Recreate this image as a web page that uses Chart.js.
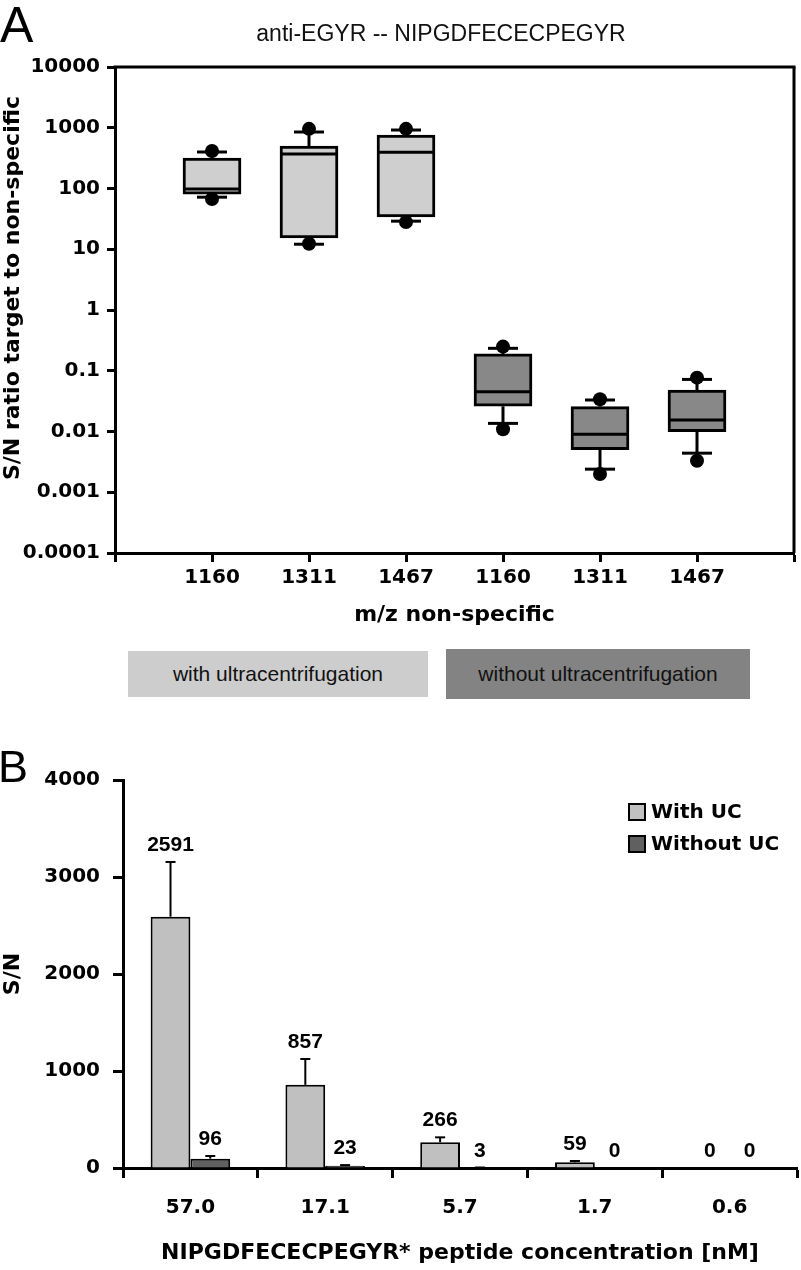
<!DOCTYPE html>
<html>
<head>
<meta charset="utf-8">
<script src="https://cdn.jsdelivr.net/npm/chart.js@4.4.1/dist/chart.umd.min.js"></script>
<style>
html,body{margin:0;padding:0;background:#fff;}
#wrap{position:relative;width:801px;height:1270px;overflow:hidden;background:#fff;}
canvas{position:absolute;left:0;}
#cA{top:0;}
#cB{top:700px;}
.txt{position:absolute;line-height:1;color:#000;white-space:nowrap;}
.letter{font-family:'Liberation Sans',Arial,sans-serif;font-weight:normal;}
.strip{position:absolute;display:flex;align-items:center;justify-content:center;font-family:'Liberation Sans',Arial,sans-serif;font-size:21px;color:#111;}
</style>
</head>
<body>
<div id="wrap">
  <canvas id="cA" width="801" height="640"></canvas>
  <canvas id="cB" width="801" height="570"></canvas>
  <div class="txt letter" style="left:0;top:0;font-size:50px;">A</div>
  <div class="txt letter" style="left:-2px;top:744px;font-size:45px;">B</div>
  <div class="txt" style="left:441px;top:22px;transform:translateX(-50%);font-family:'Liberation Sans',Arial,sans-serif;font-size:23px;color:#111;">anti-EGYR -- NIPGDFECECPEGYR</div>
  <div class="txt" style="left:12px;top:288px;transform:translate(-50%,-50%) rotate(-90deg);font-family:'DejaVu Sans',sans-serif;font-weight:bold;font-size:22px;line-height:22px;">S/N ratio target to non-specific</div>
  <div class="strip" style="left:128px;top:651px;width:300px;height:46px;background:#cdcdcd;">with ultracentrifugation</div>
  <div class="strip" style="left:446px;top:649px;width:304px;height:50px;background:#838383;">without ultracentrifugation</div>
</div>
<script>
// ---------- Panel A data (box plots, log scale) ----------
const mzLabels = ['1160', '1311', '1467', '1160', '1311', '1467'];
const boxQ1 = [81, 15.3, 34, 0.026, 0.0050, 0.0099];
const boxMedian = [98, 370, 394, 0.045, 0.009, 0.0155];
const boxQ3 = [318, 501, 760, 0.189, 0.0257, 0.048];
const whiskerLow = [72, 12.1, 29, 0.0136, 0.0024, 0.0044];
const whiskerHigh = [399, 851, 918, 0.234, 0.033, 0.072];
const pointLow = [67, 12.3, 28, 0.0109, 0.0020, 0.0033];
const pointHigh = [414, 960, 960, 0.25, 0.034, 0.077];
const withUltra = [true, true, true, false, false, false];
const yTickValuesA = [0.0001, 0.001, 0.01, 0.1, 1, 10, 100, 1000, 10000];
const yTickLabelsA = ['0.0001', '0.001', '0.01', '0.1', '1', '10', '100', '1000', '10000'];

// ---------- Panel B data (grouped bars) ----------
const concLabels = ['57.0', '17.1', '5.7', '1.7', '0.6'];
const withUC = [2591, 857, 266, 59, 0];
const withUCErr = [564, 267, 50, 13, 0];
const withoutUC = [96, 23, 3, 0, 0];
const withoutUCErr = [28, 7, 2, 0, 0];

const LIGHT_A = '#cfcfcf', DARK_A = '#888888';
const LIGHT_B = '#c0c0c0', DARK_B = '#606060';
const tickFont = {family: "'DejaVu Sans', sans-serif", weight: 'bold', size: 20};
const titleFont = {family: "'DejaVu Sans', sans-serif", weight: 'bold', size: 22};

function seg(ctx, x1, y1, x2, y2) { ctx.beginPath(); ctx.moveTo(x1, y1); ctx.lineTo(x2, y2); ctx.stroke(); }

const boxParts = {
  id: 'boxParts',
  afterDatasetsDraw(chart) {
    const ctx = chart.ctx, y = chart.scales.y;
    const meta = chart.getDatasetMeta(1);
    ctx.save();
    ctx.strokeStyle = '#000';
    ctx.lineWidth = 3;
    meta.data.forEach((bar, i) => {
      const x = bar.x, half = bar.width / 2;
      const ym = y.getPixelForValue(boxMedian[i]);
      seg(ctx, x - half + 2, ym, x + half - 2, ym);
      const yq3 = y.getPixelForValue(boxQ3[i]);
      const yhi = y.getPixelForValue(whiskerHigh[i]);
      seg(ctx, x, yq3, x, yhi);
      seg(ctx, x - 15, yhi, x + 15, yhi);
      const yq1 = y.getPixelForValue(boxQ1[i]);
      const ylo = y.getPixelForValue(whiskerLow[i]);
      seg(ctx, x, yq1, x, ylo);
      seg(ctx, x - 15, ylo, x + 15, ylo);
    });
    const a = chart.chartArea;
    seg(ctx, a.left - 1.5, a.top, a.right + 1.5, a.top);
    seg(ctx, a.right, a.top, a.right, a.bottom);
    ctx.restore();
  }
};

const dotData = [];
mzLabels.forEach((_, i) => {
  dotData.push({x: i + 1, y: pointLow[i]});
  dotData.push({x: i + 1, y: pointHigh[i]});
});

new Chart(document.getElementById('cA'), {
  type: 'bar',
  data: {
    datasets: [
      {
        type: 'scatter', data: dotData, order: 0,
        pointRadius: 7, pointHoverRadius: 7,
        pointBackgroundColor: '#000', pointBorderWidth: 0, showLine: false
      },
      {
        type: 'bar', order: 1,
        data: mzLabels.map((_, i) => ({x: i + 1, y: [boxQ1[i], boxQ3[i]]})),
        backgroundColor: withUltra.map(w => w ? LIGHT_A : DARK_A),
        borderColor: '#000', borderWidth: 3, borderSkipped: false,
        barThickness: 58
      }
    ]
  },
  options: {
    responsive: false, animation: false,
    layout: {padding: {top: 67, right: 6, left: 0, bottom: 0}},
    plugins: {legend: {display: false}, tooltip: {enabled: false}, title: {display: false}},
    scales: {
      x: {
        type: 'linear', min: 0, max: 7, offset: false,
        grid: {display: true, drawOnChartArea: false, drawTicks: true, tickLength: 9, tickWidth: 3, tickColor: '#000', offset: false},
        border: {display: true, width: 3, color: '#000'},
        ticks: {
          stepSize: 1, autoSkip: false, maxRotation: 0, padding: 4, color: '#000', font: tickFont,
          callback: (v) => (Number.isInteger(v) && v >= 1 && v <= mzLabels.length) ? mzLabels[v - 1] : ''
        },
        title: {display: true, text: 'm/z non-specific', color: '#000', font: titleFont, padding: {top: 0, bottom: 12}},
        afterFit(s) { s.height = 87; }
      },
      y: {
        type: 'logarithmic', min: 0.0001, max: 10000,
        grid: {display: true, drawOnChartArea: false, drawTicks: true, tickLength: 8, tickWidth: 3, tickColor: '#000'},
        border: {display: true, width: 3, color: '#000'},
        afterBuildTicks(s) { s.ticks = yTickValuesA.map(v => ({value: v})); },
        ticks: {
          autoSkip: false, padding: 7, color: '#000', font: tickFont,
          callback: (v) => { const k = yTickValuesA.findIndex(t => Math.abs(Math.log10(t) - Math.log10(v)) < 1e-6); return k >= 0 ? yTickLabelsA[k] : ''; }
        },
        afterFit(s) { s.width = 115; }
      }
    }
  },
  plugins: [boxParts]
});

// ---------- Panel B ----------
const errLabels = {
  id: 'errLabels',
  afterDatasetsDraw(chart) {
    const ctx = chart.ctx, y = chart.scales.y;
    const errs = [withUCErr, withoutUCErr];
    ctx.save();
    chart.data.datasets.forEach((ds, d) => {
      const meta = chart.getDatasetMeta(d);
      meta.data.forEach((bar, i) => {
        const v = ds.data[i], e = errs[d][i];
        const yv = y.getPixelForValue(v), ye = y.getPixelForValue(v + e);
        if (e > 0) {
          ctx.strokeStyle = '#000'; ctx.lineWidth = 2;
          seg(ctx, bar.x, yv, bar.x, ye);
          seg(ctx, bar.x - 5, ye, bar.x + 5, ye);
        }
        ctx.fillStyle = '#000';
        ctx.font = "bold 21px 'Liberation Sans', Arial, sans-serif";
        ctx.textAlign = 'center';
        ctx.textBaseline = 'alphabetic';
        ctx.fillText(String(v), bar.x, ye - 11);
      });
    });
    ctx.restore();
  },
  afterDraw(chart) {
    const ctx = chart.ctx;
    ctx.save();
    chart.data.datasets.forEach((ds, d) => {
      const top = 103 + d * 32;
      ctx.fillStyle = ds.backgroundColor;
      ctx.fillRect(628, top, 18, 18);
      ctx.strokeStyle = '#000'; ctx.lineWidth = 2;
      ctx.strokeRect(629, top + 1, 16, 16);
      ctx.fillStyle = '#000';
      ctx.font = "bold 20px 'DejaVu Sans', sans-serif";
      ctx.textAlign = 'left';
      ctx.textBaseline = 'middle';
      ctx.fillText(ds.label, 651, top + 10);
    });
    ctx.restore();
  }
};

new Chart(document.getElementById('cB'), {
  type: 'bar',
  data: {
    labels: concLabels,
    datasets: [
      {label: 'With UC', data: withUC, backgroundColor: LIGHT_B, borderColor: '#000', borderWidth: 2},
      {label: 'Without UC', data: withoutUC, backgroundColor: DARK_B, borderColor: '#000', borderWidth: 2}
    ]
  },
  options: {
    responsive: false, animation: false,
    categoryPercentage: 0.59, barPercentage: 1,
    layout: {padding: {top: 80, right: 4, left: 0, bottom: 0}},
    plugins: {legend: {display: false}, tooltip: {enabled: false}},
    scales: {
      x: {
        grid: {display: true, drawOnChartArea: false, drawTicks: true, tickLength: 10, tickWidth: 3, tickColor: '#000', offset: true},
        border: {display: true, width: 3, color: '#000'},
        ticks: {padding: 18, color: '#000', font: tickFont, maxRotation: 0},
        title: {display: true, text: 'NIPGDFECECPEGYR* peptide concentration [nM]', color: '#000', font: titleFont, padding: {top: 0, bottom: 4}},
        afterFit(s) { s.height = 102; }
      },
      y: {
        min: 0, max: 4000,
        grid: {display: true, drawOnChartArea: false, drawTicks: true, tickLength: 10, tickWidth: 3, tickColor: '#000'},
        border: {display: true, width: 3, color: '#000'},
        ticks: {stepSize: 1000, padding: 13, color: '#000', font: tickFont, callback: (v) => String(v)},
        title: {display: true, text: 'S/N', color: '#000', font: titleFont, padding: 0},
        afterFit(s) { s.width = 123; }
      }
    }
  },
  plugins: [errLabels]
});
</script>
</body>
</html>
